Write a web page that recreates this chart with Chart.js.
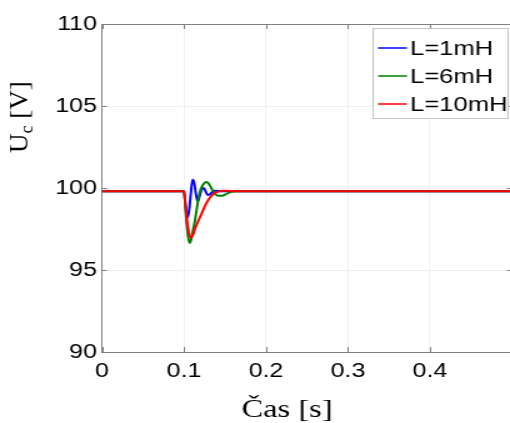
<!DOCTYPE html>
<html>
<head>
<meta charset="utf-8">
<script src="https://cdn.jsdelivr.net/npm/chart.js@4"></script>
<style>
  html, body { margin: 0; padding: 0; background: #fff; overflow: hidden; }
  canvas { display: block; }
</style>
</head>
<body>
<canvas id="c" width="408" height="423" style="width:510px;height:423px"></canvas>
<script>
// Capacitor voltage after a load step at t = 0.1 s, for three inductances.
const t1mH = [0, 0.1, 0.1012, 0.1028, 0.1045, 0.1065, 0.1085, 0.1105, 0.1125, 0.1148, 0.1168, 0.119, 0.1215, 0.124, 0.1263, 0.1288, 0.1315, 0.1345, 0.138, 0.145, 0.5];
const u1mH = [99.8, 99.8, 99.3, 98.55, 98.2, 98.75, 99.75, 100.5, 100.3, 99.55, 99.2, 99.5, 99.92, 100.0, 99.8, 99.58, 99.62, 99.76, 99.83, 99.8, 99.8];

const t6mH = [0, 0.1, 0.102, 0.104, 0.1055, 0.107, 0.1085, 0.1105, 0.113, 0.1155, 0.1185, 0.122, 0.1255, 0.128, 0.131, 0.135, 0.139, 0.1425, 0.146, 0.15, 0.155, 0.162, 0.5];
const u6mH = [99.8, 99.8, 98.6, 97.45, 96.9, 96.65, 96.8, 97.3, 97.9, 98.7, 99.6, 100.1, 100.33, 100.37, 100.2, 99.85, 99.6, 99.52, 99.52, 99.6, 99.72, 99.8, 99.8];

const t10mH = [0, 0.1, 0.102, 0.104, 0.106, 0.1085, 0.111, 0.114, 0.118, 0.122, 0.126, 0.13, 0.134, 0.138, 0.142, 0.147, 0.153, 0.16, 0.5];
const u10mH = [99.8, 99.8, 98.8, 97.9, 97.25, 96.97, 97.15, 97.6, 98.05, 98.5, 98.95, 99.3, 99.55, 99.7, 99.78, 99.83, 99.83, 99.8, 99.8];

const seriesLabels = ['L=1mH', 'L=6mH', 'L=10mH'];
const seriesColors = ['#0000ff', '#008000', '#ff0000'];
const xTicks = [0, 0.1, 0.2, 0.3, 0.4];
const yTicks = [90, 95, 100, 105, 110];
const xTitle = 'Čas [s]';
const yTitleMain = 'U';
const yTitleSub = 'c';
const yTitleUnit = ' [V]';

// the canvas is drawn 408 px wide and shown 510 px wide
const SX = 510 / 408;
const SANS = '"Liberation Sans", Arial, Helvetica, sans-serif';
const SERIF = '"Liberation Serif", "Times New Roman", Times, "DejaVu Serif", serif';

const toPoints = (ts, us) => ts.map((t, i) => ({ x: t, y: us[i] }));

const decorations = {
  id: 'decorations',
  afterDatasetsDraw(chart) {
    const { ctx, chartArea: a, scales: { x, y } } = chart;
    ctx.save();
    // top frame line and inward tick marks
    ctx.strokeStyle = '#808080';
    ctx.lineWidth = 1;
    ctx.beginPath();
    ctx.moveTo(a.left, a.top + 0.5);
    ctx.lineTo(a.right, a.top + 0.5);
    const tk = 5, tkx = 5 / SX;
    const xr = x.getPixelForValue(0.5);
    xTicks.forEach(v => {
      const px = Math.round(x.getPixelForValue(v)) + 0.5;
      ctx.moveTo(px, a.bottom); ctx.lineTo(px, a.bottom - tk);
      ctx.moveTo(px, a.top); ctx.lineTo(px, a.top + tk);
    });
    yTicks.forEach(v => {
      const py = Math.round(y.getPixelForValue(v)) + 0.5;
      ctx.moveTo(a.left, py); ctx.lineTo(a.left + tkx, py);
      ctx.moveTo(xr, py); ctx.lineTo(xr - tkx, py);
    });
    ctx.stroke();
    ctx.restore();
  },
  afterDraw(chart) {
    const { ctx } = chart;
    ctx.save();

    // legend box
    const bx = 373 / SX, bw = (508 - 373) / SX, by = 28, bh = 90;
    ctx.fillStyle = '#ffffff';
    ctx.fillRect(bx, by, bw, bh);
    ctx.strokeStyle = '#c4c4c4';
    ctx.lineWidth = 1;
    ctx.strokeRect(Math.round(bx) + 0.5, by + 0.5, Math.round(bw), bh);
    ctx.font = '20.5px ' + SANS;
    ctx.textAlign = 'left';
    ctx.textBaseline = 'middle';
    chart.data.datasets.forEach((ds, i) => {
      const cy = 48 + i * 28;
      ctx.strokeStyle = ds.borderColor;
      ctx.lineWidth = 1.5;
      ctx.beginPath();
      ctx.moveTo(378 / SX, cy);
      ctx.lineTo(407 / SX, cy);
      ctx.stroke();
      ctx.fillStyle = '#000';
      ctx.fillText(ds.label, 410 / SX, cy + 1);
    });

    // x axis title
    ctx.fillStyle = '#000';
    ctx.font = '26px ' + SERIF;
    ctx.textAlign = 'center';
    ctx.textBaseline = 'alphabetic';
    ctx.fillText(xTitle, 287 / SX, 417);

    // y axis title, rotated, with subscript
    ctx.save();
    ctx.scale(1 / SX, 1);
    ctx.translate(27, 153);
    ctx.rotate(-Math.PI / 2);
    ctx.textAlign = 'left';
    ctx.font = '27px ' + SERIF;
    ctx.fillText(yTitleMain, 0, 0);
    let w = ctx.measureText(yTitleMain).width;
    ctx.font = '18px ' + SERIF;
    ctx.fillText(yTitleSub, w, 6);
    w += ctx.measureText(yTitleSub).width;
    ctx.font = '27px ' + SERIF;
    ctx.fillText(yTitleUnit, w, 0);
    ctx.restore();

    ctx.restore();
  }
};

new Chart(document.getElementById('c'), {
  type: 'line',
  data: {
    datasets: [
      { label: seriesLabels[0], data: toPoints(t1mH, u1mH), borderColor: seriesColors[0], order: 3 },
      { label: seriesLabels[1], data: toPoints(t6mH, u6mH), borderColor: seriesColors[1], order: 2 },
      { label: seriesLabels[2], data: toPoints(t10mH, u10mH), borderColor: seriesColors[2], order: 1 }
    ].map(ds => Object.assign(ds, {
      borderWidth: 2,
      pointRadius: 0,
      fill: false,
      cubicInterpolationMode: 'monotone'
    }))
  },
  options: {
    responsive: false,
    animation: false,
    events: [],
    layout: { padding: { top: 24, right: 0, bottom: 0, left: 0 } },
    plugins: { legend: { display: false }, title: { display: false }, tooltip: { enabled: false } },
    scales: {
      x: {
        type: 'linear',
        min: 0,
        max: 0.4976,
        afterBuildTicks: s => { s.ticks = xTicks.map(v => ({ value: v })); },
        afterFit: s => { s.height = 71; },
        ticks: {
          callback: v => String(v),
          font: { family: SANS, size: 20 },
          color: '#000',
          padding: 7,
          maxRotation: 0,
          autoSkip: false
        },
        grid: { color: '#f0f0f0', drawTicks: false },
        border: { color: '#808080', width: 1 }
      },
      y: {
        type: 'linear',
        min: 90,
        max: 110,
        afterBuildTicks: s => { s.ticks = yTicks.map(v => ({ value: v })); },
        afterFit: s => { s.width = 102 / SX; },
        ticks: {
          callback: v => String(v),
          font: { family: SANS, size: 20 },
          color: '#000',
          padding: 4,
          autoSkip: false
        },
        grid: { color: '#f0f0f0', drawTicks: false },
        border: { color: '#808080', width: 1 }
      }
    }
  },
  plugins: [decorations]
});
</script>
</body>
</html>
